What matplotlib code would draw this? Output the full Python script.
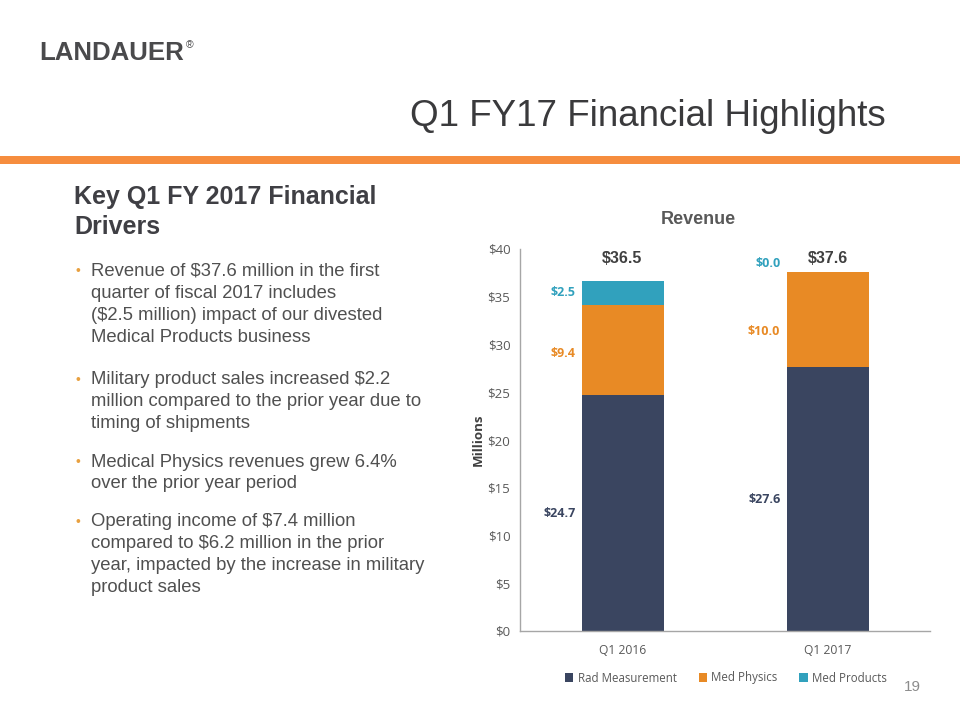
import matplotlib
matplotlib.use("Agg")
import matplotlib.pyplot as plt
from matplotlib.patches import Rectangle
import numpy as np

categories = ["Q1 2016", "Q1 2017"]
rad_measurement = [24.7, 27.6]
med_physics = [9.4, 10.0]
med_products = [2.5, 0.0]
totals = [36.5, 37.6]
series_names = ["Rad Measurement", "Med Physics", "Med Products"]
yticks = [0, 5, 10, 15, 20, 25, 30, 35, 40]

c_rad = "#3A4560"
c_phys = "#E88A25"
c_prod = "#31A1BD"

W, H = 960, 720
fig = plt.figure(figsize=(9.6, 7.2), dpi=100)

def fx(x):
    return x / W

def fy(y):
    return 1 - y / H

sans = ["Liberation Sans", "DejaVu Sans"]
chartfont = ["Open Sans", "DejaVu Sans"]

# Logo
logo = fig.text(fx(39), fy(53), "LANDAUER", fontsize=18.6, fontweight="bold", color="#4A4A4C",
                family=sans, ha="left", va="center")
fig.canvas.draw()
bb = logo.get_window_extent()
fig.text(bb.x1 / W + 2 / W, fy(45), "®", fontsize=7.5, color="#4A4A4C", family=sans,
         ha="left", va="center")

# Title
fig.text(fx(886), fy(116), "Q1 FY17 Financial Highlights", fontsize=26.5, color="#3A3A3C",
         family=sans, ha="right", va="center")

# Orange rule
fig.add_artist(Rectangle((0, fy(164)), 1, (164 - 156) / H, transform=fig.transFigure,
                         color="#F68D3E", lw=0))

# Left heading
fig.text(fx(74), fy(197), "Key Q1 FY 2017 Financial", fontsize=18, fontweight="bold",
         color="#3F3F44", family=sans, ha="left", va="center")
fig.text(fx(74), fy(227), "Drivers", fontsize=18, fontweight="bold",
         color="#3F3F44", family=sans, ha="left", va="center")

bullets = [
    (271, ["Revenue of $37.6 million in the first", "quarter of fiscal 2017 includes",
           "($2.5 million) impact of our divested", "Medical Products business"]),
    (380, ["Military product sales increased $2.2", "million compared to the prior year due to",
           "timing of shipments"]),
    (462, ["Medical Physics revenues grew 6.4%", "over the prior year period"]),
    (522, ["Operating income of $7.4 million", "compared to $6.2 million in the prior",
           "year, impacted by the increase in military", "product sales"]),
]
for y0, lines in bullets:
    fig.text(fx(75), fy(y0), "•", fontsize=10, color="#E8A040", family=sans, ha="left", va="center")
    for i, ln in enumerate(lines):
        fig.text(fx(91), fy(y0 + 22 * i), ln, fontsize=13.3, color="#505050", family=sans,
                 ha="left", va="center")

# Chart
ax = fig.add_axes([fx(520), fy(631), fx(930) - fx(520), (631 - 249) / H])
x = np.arange(len(categories))
bw = 0.4
rad = np.array(rad_measurement)
phys = np.array(med_physics)
prod = np.array(med_products)
ax.bar(x, rad, bw, color=c_rad, label=series_names[0], zorder=2)
ax.bar(x, phys, bw, bottom=rad, color=c_phys, label=series_names[1], zorder=2)
ax.bar(x, prod, bw, bottom=rad + phys, color=c_prod, label=series_names[2], zorder=2)

ax.set_xlim(-0.5, 1.5)
ax.set_ylim(0, 40)
ax.set_yticks(yticks)
ax.set_yticklabels([f"${v}" for v in yticks], fontsize=9.5, color="#595959", family=chartfont)
ax.set_xticks(x)
ax.set_xticklabels(categories, fontsize=8.7, color="#595959", family=chartfont)
ax.tick_params(axis="y", length=0, pad=7)
ax.tick_params(axis="x", length=0, pad=9)
for s in ["top", "right"]:
    ax.spines[s].set_visible(False)
for s in ["left", "bottom"]:
    ax.spines[s].set_color("#A6A6A6")
    ax.spines[s].set_linewidth(1)
ax.set_ylabel("Millions", fontsize=9.5, fontweight="bold", color="#404040", family=chartfont, labelpad=2)

lx_off = -bw / 2 - 0.03
phys_shift = [-0.3, -1.2]
for i in range(len(categories)):
    ax.text(x[i] + lx_off, rad[i] / 2, f"${rad[i]:.1f}", ha="right", va="center",
            fontsize=9, fontweight="bold", color=c_rad, family=chartfont)
    ax.text(x[i] + lx_off, rad[i] + phys[i] / 2 + phys_shift[i], f"${phys[i]:.1f}", ha="right",
            va="center", fontsize=9, fontweight="bold", color=c_phys, family=chartfont)
    ax.text(x[i] + lx_off, rad[i] + phys[i] + prod[i] / 2 + 0.9 - 0.8 * (prod[i] > 0),
            f"${prod[i]:.1f}", ha="right", va="center", fontsize=9, fontweight="bold",
            color=c_prod, family=chartfont)
    ax.text(x[i], 39.05, f"${totals[i]:.1f}", ha="center", va="center", fontsize=11.5,
            fontweight="bold", color="#404040", family=sans)

fig.text(fx(698), fy(220), "Revenue", fontsize=13, fontweight="bold", color="#595959",
         family=sans, ha="center", va="center")

leg = ax.legend(loc="center", bbox_to_anchor=((726 - 520) / 410, -(678 - 631) / 382), ncol=3,
                frameon=False, prop={"family": chartfont, "size": 8.3}, handlelength=0.7,
                handleheight=0.7, handletextpad=0.4, columnspacing=1.9)
for t in leg.get_texts():
    t.set_color("#595959")

fig.text(fx(912), fy(687), "19", fontsize=11, color="#8C8C8C", family=sans, ha="center", va="center")

fig.savefig("out.png", dpi=100, facecolor="white")
